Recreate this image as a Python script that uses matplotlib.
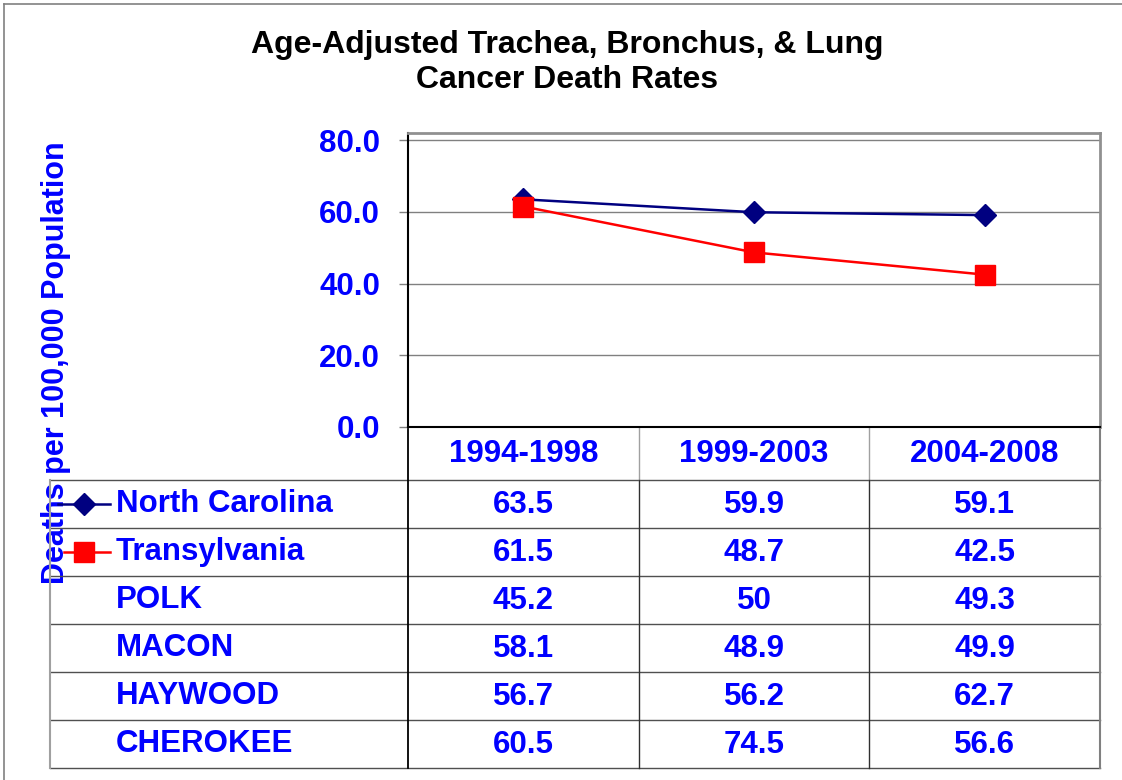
#!/usr/bin/env python3
"""
Line chart with data table: age-adjusted trachea, bronchus & lung cancer death rates
"""

import matplotlib
matplotlib.use("Agg")
import matplotlib.pyplot as plt

# ---- data ----
periods = ["1994-1998", "1999-2003", "2004-2008"]
areas = ["North Carolina", "Transylvania", "POLK", "MACON", "HAYWOOD", "CHEROKEE"]
north_carolina = [63.5, 59.9, 59.1]
transylvania = [61.5, 48.7, 42.5]
polk = [45.2, 50, 49.3]
macon = [58.1, 48.9, 49.9]
haywood = [56.7, 56.2, 62.7]
cherokee = [60.5, 74.5, 56.6]
table_rows = [north_carolina, transylvania, polk, macon, haywood, cherokee]
y_ticks = [0, 20, 40, 60, 80]

BLUE = "#0000FF"
NAVY = "#000080"
RED = "#FF0000"
FS = 22.5

plt.rcParams["font.family"] = ["Liberation Sans", "DejaVu Sans"]
plt.rcParams["font.weight"] = "bold"

W, H = 1122, 780
fig = plt.figure(figsize=(W / 100, H / 100), dpi=100)

# overlay axes in pixel coordinates for the table and frame
ov = fig.add_axes([0, 0, 1, 1])
ov.set_xlim(0, W)
ov.set_ylim(H, 0)
ov.axis("off")

# plot area in pixels
px0, px1 = 408, 1100
py_top, py_bot = 133, 427
ax = fig.add_axes([px0 / W, (H - py_bot) / H, (px1 - px0) / W, (py_bot - py_top) / H])

x = list(range(len(periods)))
ax.plot(x, north_carolina, color=NAVY, lw=1.8, marker="D", ms=11, zorder=3)
ax.plot(x, transylvania, color=RED, lw=1.8, marker="s", ms=14, zorder=4)
ax.set_xlim(-0.5, len(periods) - 0.5)
ax.set_ylim(0, 82)
ax.set_yticks(y_ticks)
ax.set_yticklabels([f"{v:.1f}" for v in y_ticks], color=BLUE, fontsize=FS, fontweight="bold")
ax.set_xticks([])
ax.tick_params(axis="y", direction="out", length=6.5, width=1, color="#808080", pad=13.5)
ax.grid(axis="y", color="#808080", lw=1)
ax.set_axisbelow(True)
ax.spines["left"].set_color("black")
ax.spines["left"].set_linewidth(1.5)
ax.spines["bottom"].set_color("black")
ax.spines["bottom"].set_linewidth(1.5)
ax.spines["top"].set_color("#909090")
ax.spines["top"].set_linewidth(2)
ax.spines["right"].set_color("#909090")
ax.spines["right"].set_linewidth(2)

# title
ov.text(567, 45, "Age-Adjusted Trachea, Bronchus, & Lung", ha="center", va="center",
        fontsize=23, fontweight="bold", color="black")
ov.text(567, 80, "Cancer Death Rates", ha="center", va="center",
        fontsize=23, fontweight="bold", color="black")

# y label
ov.text(56, 363, "Deaths per 100,000 Population", rotation=90, ha="center", va="center",
        fontsize=22, fontweight="bold", color=BLUE, zorder=1)

# outer frame (left and top edges)
ov.plot([4, 4], [4, H], color="#808080", lw=1.2)
ov.plot([4, W], [4, 4], color="#808080", lw=1.2)

# ---- data table ----
col_w = (px1 - px0) / len(periods)
head_top, head_bot = py_bot, 480
row_h = 48
tab_left = 50
n_rows = len(areas)
tab_bot = head_bot + n_rows * row_h

# header row
for i, p in enumerate(periods):
    cx = px0 + (i + 0.5) * col_w
    ov.text(cx, (head_top + head_bot) / 2 + 1, p, ha="center", va="center",
            fontsize=FS, fontweight="bold", color=BLUE)

# horizontal lines
for r in range(n_rows + 1):
    yy = head_bot + r * row_h
    ov.plot([tab_left, px1], [yy, yy], color="#505050", lw=1)
# vertical lines
ov.plot([px0, px0], [head_top, tab_bot], color="black", lw=1.3)
for i in range(1, len(periods)):
    xx = px0 + i * col_w
    ov.plot([xx, xx], [head_top, head_bot], color="#a0a0a0", lw=1)
    ov.plot([xx, xx], [head_bot, tab_bot], color="#303030", lw=1)
ov.plot([px1, px1], [head_top, tab_bot], color="#808080", lw=1.5)
ov.plot([tab_left, tab_left], [head_bot, tab_bot], color="#a0a0a0", lw=1.5)

# row labels and values
for r, (name, vals) in enumerate(zip(areas, table_rows)):
    cy = head_bot + (r + 0.5) * row_h
    ov.text(116, cy, name, ha="left", va="center", fontsize=FS,
            fontweight="bold", color=BLUE)
    for i, v in enumerate(vals):
        cx = px0 + (i + 0.5) * col_w
        ov.text(cx, cy + 1, f"{v:g}", ha="center", va="center", fontsize=FS,
                fontweight="bold", color=BLUE)

# legend keys inside the table
cy0 = head_bot + 0.5 * row_h
cy1 = head_bot + 1.5 * row_h
ov.plot([58, 110], [cy0, cy0], color=NAVY, lw=1.8, zorder=3)
ov.plot([84], [cy0], color=NAVY, marker="D", ms=11, zorder=3)
ov.plot([64, 110], [cy1, cy1], color=RED, lw=1.8, zorder=3)
ov.plot([84], [cy1], color=RED, marker="s", ms=14, zorder=3)

fig.savefig("out.png", dpi=100)
plt.close(fig)
